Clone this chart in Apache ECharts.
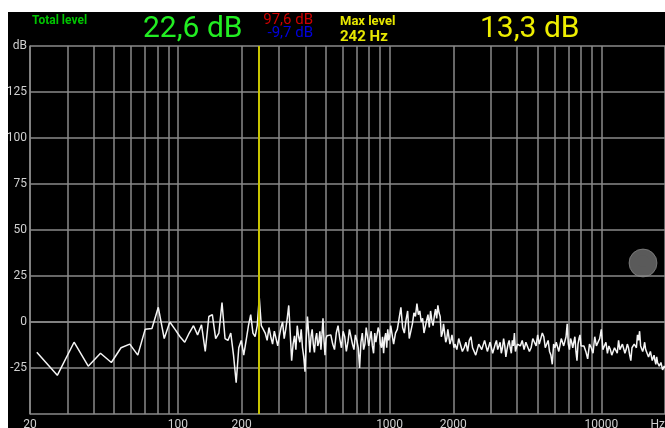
<!DOCTYPE html>
<html>
<head>
<meta charset="utf-8">
<script src="https://cdn.jsdelivr.net/npm/echarts@6/dist/echarts.min.js"></script>
<style>
  html, body { margin: 0; padding: 0; background: #fff; }
  #main { position: absolute; left: 8px; top: 12px; width: 657px; height: 416px; background: #000; }
</style>
</head>
<body>

<div id="main"></div>

<script type="text/javascript">
    // FFT bin width (44.1 kHz, 8192 points)
    var BIN_HZ = 44100 / 8192;

    // spectrum levels in dB, grouped by bin ranges (first bin, bin step)
    var segStarts = [4, 48, 98, 194, 386, 770, 1538, 3074];
    var segSteps = [1, 1, 2, 4, 8, 16, 32, 32];

    var levelsLow = [-16.5, -29, -11, -24, -17, -22, -14, -12, -18, -4, -3.5, 8, -9, 0, -4, -8, -11, -6, -2, -7,
        -1.5, -16, 3, 4, -9, -6, 10.5, -9, -10, -6, -18, -33, -14, -10, -18, -10, -2, 4, -6, -8, -2, 13.3, -2];
    var levels258 = [-6, -10, -3, -8, -12, -5, -4, -13, -7.5, -3, 0, -9, -4, 2, 9, -6, -21, -12, -7.5, -15,
        -2, -8, -11, -4, -14, -19, -27, -9, 3, -6, -16.5, -8, -4, -12, -16.5, -9, -6, -13, -11, -5,
        -15, -7, 2, -10, -18, -9, -7.5];
    var levels527 = [-7, -12, -15, -6, -2, -9, -14, -5, -8, -16, -11, -4, -5, -12, -15, -7, -10, -14, -25, -11,
        -6, -15, -12, -3, -4, -13, -9, -5, -13, -17, -6, -11, -10, -3, -5, -12, -14, -8, -17, -9,
        -6, -14, -4, -10, -8, -2, -3];
    var levels1044 = [-12, -6, -4, 2, 8, -3, -6, 1, 6, -9, -10, -1, 5, 3, 10, 4, 6, 0, 2, -6,
        -7, 1, 4, -3, 6, 1, -2, 3, 7, 2, 9, 5, 3, -8, -6, -1, -2, -11, -9, -4,
        -5, -12, -10, -7, -6, -14, -12];
    var levels2078 = [-15, -9, -10, -16, -14, -11, -16, -10, -8, -14, -13, -18, -17, -12, -11, -15, -14, -10, -9, -16,
        -15, -11, -12, -17, -16, -12, -10, -15, -13, -11, -17, -14, -9, -13, -19, -15, -12, -10, -14, -17,
        -10, -13, -6, -16, -15, -12, -11];
    var levels4145 = [-13, -10, -15, -11, -12, -16, -14, -9, -11, -13, -7, -12, -12, -6, -8, -14, -13, -10, -16, -18,
        -23, -12, -14, -11, -12, -16, -15, -9, -10, -13, -14, -8, -1, -12, -15, -9, -11, -14, -13, -8,
        -16, -21, -12, -9, -7, -13, -14];
    var levels8279 = [-13, -16, -20, -12, -14, -17, -8, -13, -12, -9, -4, -15, -14, -11, -17, -13, -15, -18, -19, -14,
        -14, -17, -10, -15, -16, -12, -13, -17, -15, -12, -14, -18, -21, -14, -15, -12, -11, -14, -7, -10,
        -5, -13, -12, -16, -14, -11, -15];
    var levels16548 = [-16, -19, -18, -16, -17, -21, -20, -18, -21, -23, -19, -22, -22, -24, -23, -22, -24, -26, -25, -24,
        -25];
    var segLevels = [levelsLow, levels258, levels527, levels1044, levels2078, levels4145, levels8279, levels16548];

    // frequency grid and labels
    var freqTicks = [20, 30, 40, 50, 60, 70, 80, 90, 100, 200, 300, 400, 500, 600, 700, 800, 900,
        1000, 2000, 3000, 4000, 5000, 6000, 7000, 8000, 9000, 10000, 20000];
    var freqLabels = [20, 100, 200, 1000, 2000, 10000, 20000];
    var maxFreq = 242;

    var spectrum = [];
    segLevels.forEach(function (levels, s) {
        levels.forEach(function (v, i) {
            spectrum.push([(segStarts[s] + i * segSteps[s]) * BIN_HZ, v]);
        });
    });

    var myChart = echarts.init(document.getElementById('main'));

    var font = 'Roboto, "DejaVu Sans", sans-serif';
    var gridColor = '#8a8a8a';

    var option = {
        backgroundColor: '#000',
        animation: false,
        grid: {
            left: 22,
            right: 0,
            top: 34,
            bottom: 14,
            containLabel: false,
            outerBoundsMode: 'none'
        },
        xAxis: {
            type: 'log',
            logBase: 10,
            min: 20,
            max: 20000,
            axisLine: {show: true, lineStyle: {color: gridColor, width: 1.5}},
            axisTick: {show: false, customValues: freqTicks},
            splitLine: {show: true, lineStyle: {color: gridColor, width: 1.5}},
            axisLabel: {
                customValues: freqLabels,
                color: '#d0d0d0',
                fontSize: 12,
                fontFamily: font,
                margin: 5,
                alignMaxLabel: 'right',
                formatter: function (v) {
                    return v >= 20000 ? 'Hz' : String(Math.round(v));
                }
            }
        },
        yAxis: {
            type: 'value',
            min: -50,
            max: 150,
            interval: 25,
            axisLine: {show: true, lineStyle: {color: gridColor, width: 1.5}},
            axisTick: {show: false},
            splitLine: {show: true, lineStyle: {color: gridColor, width: 1.5}},
            axisLabel: {
                color: '#d0d0d0',
                fontSize: 12,
                fontFamily: font,
                margin: 3,
                formatter: function (v) {
                    if (v === 150) return 'dB';
                    if (v === -50) return '';
                    return String(v);
                }
            }
        },
        series: [
            {
                type: 'line',
                data: spectrum,
                showSymbol: false,
                symbol: 'none',
                lineStyle: {color: '#f4f4f4', width: 1.5},
                markLine: {
                    silent: true,
                    symbol: 'none',
                    label: {show: false},
                    lineStyle: {color: '#c8c400', width: 2, type: 'solid'},
                    data: [{xAxis: maxFreq}]
                }
            }
        ],
        graphic: [
            {type: 'text', x: 24, y: 9,
                style: {text: 'Total level', fill: '#00c400', font: 'bold 12px ' + font, verticalAlign: 'middle'}},
            {type: 'text', x: 135, y: 17,
                style: {text: '22,6 dB', fill: '#22ee22', font: '30px ' + font, verticalAlign: 'middle'}},
            {type: 'text', x: 305, y: 8,
                style: {text: '97,6 dB', fill: '#cc0000', font: '15px ' + font, align: 'right', verticalAlign: 'middle'}},
            {type: 'text', x: 305, y: 21.5,
                style: {text: '-9,7 dB', fill: '#0000dd', font: '15px ' + font, align: 'right', verticalAlign: 'middle'}},
            {type: 'text', x: 332, y: 10,
                style: {text: 'Max level', fill: '#e6e600', font: 'bold 13px ' + font, verticalAlign: 'middle'}},
            {type: 'text', x: 332, y: 25,
                style: {text: '242 Hz', fill: '#e6e600', font: 'bold 15px ' + font, verticalAlign: 'middle'}},
            {type: 'text', x: 472, y: 17,
                style: {text: '13,3 dB', fill: '#eeee00', font: '30px ' + font, verticalAlign: 'middle'}},
            {type: 'circle', shape: {cx: 635, cy: 251, r: 14},
                style: {fill: 'rgba(120,120,120,0.75)', stroke: 'rgba(150,150,150,0.6)', lineWidth: 1}},
            {type: 'circle', shape: {cx: 635, cy: 249, r: 6},
                style: {fill: 'rgba(90,90,90,0.6)'}}
        ]
    };

    myChart.setOption(option);
</script>
</body>
</html>
